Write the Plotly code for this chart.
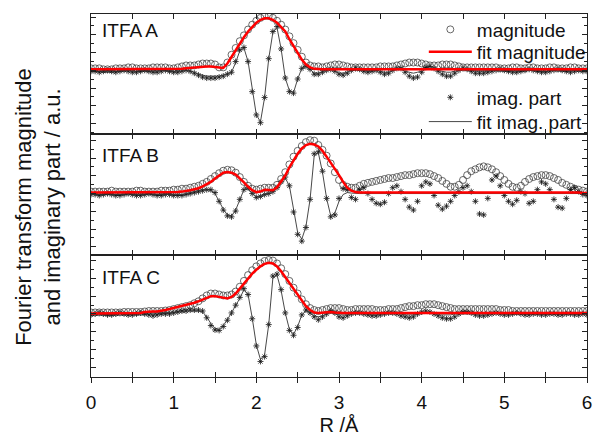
import plotly.graph_objects as go

# R grid (Å), step 0.05
R = [round(i * 0.05, 2) for i in range(121)]

# ---------- ITFA A ----------
mag_A = [2,2,2,1,1,1,2,2,2,3, 3,2,2,2,2,3,3,3,3,2,
         2,3,4,5,5,5,6,7,7,7, 6,3,3,8,16,23,30,36,42,47,
         51,54,56,56,54,51,47,42,35,28, 21,14,8,5,4,4,3,4,5,6,
         6,5,4,3,3,3,3,3,3,3, 4,4,4,4,5,6,7,8,8,8,
         7,6,5,5,5,6,6,6,5,4, 3,3,3,3,3,3,3,3,3,2,
         2,2,3,3,2,2,3,3,2,2, 2,3,3,2,2,2,3,3,2,2,
         2]
fit_mag_A = [1,1,1,1,1,1,1,1,1,1, 1,1,1,1.5,1.5,1.5,1.5,1.5,1.5,1.5,
             1.5,1.5,1.5,2,2.5,3,3.5,4,4,4, 3.5,2.5,2.5,7,14,21,28,34,40,45,
             49,52,53.5,53.5,52,49,45,40,32,25, 18,11,6,3,1.5,1,1,1,1,1,
             1,1,1,1,1,1.5,1.5,1,1,1, 1,1,1,1,1.5,1.5,1.5,1,1,1,
             1,1,1,1.5,1.5,1.5,1,1,1,1, 1,1,1,1,1,1,1,1,1,1,
             1,1,1,1,1,1,1,1,1,1, 1,1,1,1,1,1,1,1,1,1,
             1]
imag_A = [-1,-1,-2,-1,0,-1,-2,-1,0,-1, -2,-2,-1,0,-1,-2,-2,-1,0,-1,
          -2,-2,-1,0,-1,-3,-5,-7,-8,-8, -8,-7,-6,-4,-2,9,21,23.5,9,-22,
          -46,-54,-28,12,40,45,22,-8,-22,-23.5, -9,2,4,1,-4,-4,-2,0,1,-1,
          -4,-5,-3,0,2,1,-1,-2,-1,0, -2,-4,-3,0,2,2,-2,-6,-8,-7,
          -2,3,4,2,-1,-4,-6,-6,-3,0, 2,1,-1,-3,-3,-3,-2,-1,0,1,
          0,-1,-2,-2,-1,0,1,0,-1,-2, -2,-1,0,1,0,-1,-2,-1,0,-1,
          -1]
fit_imag_A = [0,0,-1,-1,0,0,-1,-1,0,0, -1,-1,0,0,-1,-1,-1,0,0,-1,
              -1,-1,-1,0,-1,-2,-4,-5,-6,-6, -6,-6,-5,-4,-2,8,20,23,9,-21,
              -46,-53,-28,12,39,44,22,-8,-21,-23, -9,2,4,1,-3,-3,-2,0,1,-1,
              -3,-3,-2,0,1,1,0,-1,-1,0, -1,-2,-2,0,1,1,-1,-2,-3,-2,
              -1,1,2,1,0,-1,-2,-2,-1,0, 1,1,0,-1,-1,-1,-1,0,0,0,
              0,0,-1,-1,0,0,0,0,0,-1, -1,0,0,0,0,0,-1,0,0,0,
              0]

# ---------- ITFA B ----------
mag_B = [2,2,2,2,2,3,2,2,2,2, 2,3,3,2,2,2,2,3,3,3,
         4,4,5,5,6,7,8,10,12,15, 18,21,23.5,24.5,24,21.5,17,12,8,5,
         4,5,6,6,6,9,15,22,30,38, 44,49,53,55,54.5,50,45,39,31,22,
         14,9,7,6,6,8,10,11,12,13, 14,15,16,16,17,18,19,19,20,21,
         21,21,20,18,16,13,10,7,7,9, 14,19,23,25,27,28,27,25,22,18,
         14,10,7,6,8,12,15,17,18,19, 19,18,16,14,11,9,7,5,4,3,
         2]
fit_mag_B = [1,1,1,1,1,1.5,1.5,1,1,1, 1,1.5,1.5,1,1,1,1,1.5,1.5,1.5,
             1.5,1.5,2,2.5,3.5,4.5,5.5,7.5,9.5,12, 15.5,19,21.5,22.3,21.5,19.5,16,11.5,7,3.5,
             1.5,2,4,4,3.5,6.5,12,18.5,27,34.5, 41,46.5,50,51.3,50.5,48.5,44,38,32,26,
             19,12,6,3,1.5,1,1,1,1,1, 1,1.5,1.5,1,1,1,1,1,1.5,1.5,
             1,1,1,1,1.5,1,1,1,1,1, 1,1,1,1,1,1.5,1.5,1,1,1,
             1,1,1,1,1,1,1,1,1,1, 1,1,1,1,1,1,1,1,1,0.5,
             0.5]
imag_B = [-1,-1,-2,-1,0,-1,-2,-2,-1,0, -1,-2,-2,-1,0,-1,-2,-2,-1,-1,
          -2,-2,-2,-1,0,1,2,3,4,4, 1,-8,-17,-23,-24,-18,-6,4,6,0,
          -4,-3,-1,0,2,6,12,17,8,-19, -42,-49,-35,-6,41,43,23,-5,-24,-22,
          -5,5,4,-4,-6,4,6,0,-6,-10, -11,-9,0,6,8,2,-6,-14,-17,-8,
          8,12,10,-2,-12,-16,-13,-8,-2,2, 6,8,2,-8,-21,-22,-5,14,18,8,
          -2,-8,-11,-7,2,0,-10,-8,4,12, 10,4,-6,-14,-15,-5,4,6,2,-1,
          -2]
fit_imag_B = [-1,-1,-1,-1,0,-1,-1,-1,-1,0, -1,-1,-1,-1,0,-1,-1,-1,-1,-1,
              -1,-1,-1,0,1,2,3,4,4,3, 0,-8,-16,-22,-23,-17,-6,4,5,0,
              -3,-3,-1,0,2,6,12,16,8,-18, -40,-47,-34,-6,39,42,22,-5,-23,-20,
              -8,-1,1,0.5,0,0,0,0,0,0, 0,0,0,0,0,0,0,0,0,0,
              0,0,0,0,0,0,0,0,0,0, 0,0,0,0,0,0,0,0,0,0,
              0,0,0,0,0,0,0,0,0,0, 0,0,0,0,0,0,0,0,0,0,
              0]

# ---------- ITFA C ----------
mag_C = [1.5,1.5,1.5,1.5,1.5,1.5,1.5,1.5,2,2, 2,2,2,2.5,3,3,3,3,3.5,4,
         5,6,7,8,9,11,13,16,19,21, 21,20,19,19,20,23,28,34,40,45,
         49,52,54.5,55.5,55,52,47,41,34,27, 21,15,10,6,4,3,4,5,6,6,
         6,5,4,4,5,5,5,5,5,4, 4,4,5,5,5,6,7,8,8,9,
         9,10,10,10,9,8,7,6,5,5, 5,5,5,5,5,5,5,5,5,4,
         4,4,3,3,3,3,3,3,3,3, 3,3,3,3,3,3,3,3,3,3,
         3]
fit_mag_C = [0.5,0.5,0.5,0.5,0.5,0.5,0.5,0.5,0.5,0.5, 0.5,0.5,1,2,2.5,2.5,2.5,3,4,5,
             6,7.5,8.5,9.5,10.5,11.5,13,15,17,18.3, 18.3,17.5,16.5,16,17.5,21,26,31.5,37,41.5,
             45.5,49,51.5,52.7,52,49,44,38,31.5,25, 19,13,8,4,1.5,1,1.5,2,2,1.5,
             1,1,1,1,1.5,1.5,1,1,1,1, 1,1,1,1,1,1,1.5,1.5,1.5,1.5,
             1.5,1.5,1.5,1.5,1,1,1,1,1,1, 1,1,1,1,1,1,1,1,1,1,
             1,1,1,1,1,1,1,1,1,1, 1,1,1,1,1,1,1,1,1,1,
             1]
imag_C = [-1,0,1,0,-1,-1,0,1,0,-1, -1,0,1,0,-1,-2,-1,0,0,0,
          1,2,3,3,4,4,4,3,-4,-12, -16.5,-17,-13,-6.5,1,9,17,26,20,-5,
          -33,-49,-44,-11,39,41,25,1,-17,-22, -14,-1,4,1,-3,-6,-3,0,3,1,
          -3,-4,-2,0,1,1,0,-1,-2,-2, -1,0,1,1,0,-2,-3,-4,-3,0,
          2,3,2,0,-2,-4,-5,-5,-3,0, 2,2,1,-1,-2,-2,-1,0,1,0,
          -1,-1,0,1,0,-1,-1,0,0,-1, -1,0,0,-1,-1,0,0,-1,-1,0,
          -1]
fit_imag_C = [0,0,0,0,0,0,0,0,0,0, 0,0,0,1,1,1,1,1,1,1,
              1,2,2,3,3,3,3,2,-3,-10, -15,-16,-12,-6,1,8,16,25,20,-4,
              -32,-47,-42,-11,37,40,24,1,-16,-21, -13,-1,3,1,-2,-3,-2,0,1,0,
              -1,-1,-1,0,0,0,0,0,-1,-1, 0,0,0,0,0,0,-1,-1,-1,0,
              0,1,1,0,-1,-1,-1,-1,0,0, 0,0,0,0,0,0,0,0,0,0,
              0,0,0,0,0,0,0,0,0,0, 0,0,0,0,0,0,0,0,0,0,
              0]

panel_labels = ["ITFA A", "ITFA B", "ITFA C"]
legend_names = ["magnitude", "fit magnitude", "imag. part", "fit imag. part"]
x_tick_labels = ["0", "1", "2", "3", "4", "5", "6"]

panels = [
    (mag_A, fit_mag_A, imag_A, fit_imag_A, "x", "y"),
    (mag_B, fit_mag_B, imag_B, fit_imag_B, "x2", "y2"),
    (mag_C, fit_mag_C, imag_C, fit_imag_C, "x3", "y3"),
]

FONT = "Liberation Sans, Arial, sans-serif"
fig = go.Figure()

for i, (mg, fmg, im, fim, xa, ya) in enumerate(panels):
    first = (i == 0)
    fig.add_trace(go.Scatter(
        x=R, y=mg, mode="markers", name=legend_names[0], xaxis=xa, yaxis=ya,
        marker=dict(symbol="circle-open", size=7, color="#444", line=dict(width=0.8)),
        showlegend=first, legend="legend"))
    fig.add_trace(go.Scatter(
        x=R, y=im, mode="markers", name=legend_names[2], xaxis=xa, yaxis=ya,
        marker=dict(symbol="asterisk-open", size=5, color="#111", line=dict(width=0.8, color="#111")),
        showlegend=first, legend="legend3"))
    fig.add_trace(go.Scatter(
        x=R, y=fim, mode="lines", name=legend_names[3], xaxis=xa, yaxis=ya,
        line=dict(color="#333", width=0.9),
        showlegend=first, legend="legend4"))
    fig.add_trace(go.Scatter(
        x=R, y=fmg, mode="lines", name=legend_names[1], xaxis=xa, yaxis=ya,
        line=dict(color="#ff0000", width=2.5),
        showlegend=first, legend="legend2"))

# dummy trace for the labelled bottom axis
fig.add_trace(go.Scatter(x=[None], y=[None], xaxis="x4", yaxis="y3",
                         showlegend=False, hoverinfo="skip"))

common_x = dict(range=[0, 6], showline=True, linecolor="#222", linewidth=1.2,
                mirror="ticks", ticks="inside", ticklen=5, tickcolor="#222",
                dtick=0.5, tick0=0, showticklabels=False, showgrid=False, zeroline=False)
def y_axis(rng, dom):
    return dict(range=rng, domain=dom, showline=True, linecolor="#222", linewidth=1.2,
                mirror="ticks", ticks="inside", ticklen=5, tickcolor="#222",
                dtick=18.3, tick0=0, showticklabels=False, showgrid=False, zeroline=False,
                minor=dict(dtick=9.15, tick0=0, ticks="inside", ticklen=3, tickcolor="#222"))

def leg(yc):
    return dict(x=0.671, y=yc, xanchor="left", yanchor="middle", bgcolor="rgba(0,0,0,0)",
                font=dict(size=19, family=FONT, color="#111"), itemwidth=43)

d1, d2 = 0.3356, 0.6698
fig.update_layout(
    width=598, height=439,
    margin=dict(l=91, r=6, t=14, b=51),
    paper_bgcolor="white", plot_bgcolor="white",
    font=dict(family=FONT, color="#111", size=18),
    xaxis=dict(common_x, anchor="y"),
    xaxis2=dict(common_x, anchor="y2"),
    xaxis3=dict(common_x, anchor="y3"),
    xaxis4=dict(range=[0, 6], overlaying="x3", anchor="y3", side="bottom",
                showline=False, ticks="outside", ticklen=5, tickcolor="#222",
                showgrid=False, zeroline=False, ticklabelstandoff=3,
                tickvals=[0, 1, 2, 3, 4, 5, 6], ticktext=x_tick_labels,
                tickfont=dict(size=19, family=FONT, color="#111"),
                minor=dict(dtick=0.5, ticks="outside", ticklen=5, tickcolor="#222"),
                title=dict(text="R /Å", font=dict(size=20, family=FONT, color="#111"), standoff=6)),
    yaxis=y_axis([-65.5, 58], [d2, 1]),
    yaxis2=y_axis([-63.5, 61.5], [d1, d2]),
    yaxis3=y_axis([-65, 60.5], [0, d1]),
    legend=leg(0.9572),
    legend2=leg(0.8957),
    legend3=leg(0.7701),
    legend4=leg(0.7032),
    showlegend=True,
)

label_y = [0.9545, 0.6096, 0.2754]
for txt, yy in zip(panel_labels, label_y):
    fig.add_annotation(text=txt, xref="paper", yref="paper", x=0.018, y=yy,
                       xanchor="left", yanchor="middle", showarrow=False,
                       font=dict(size=19, family=FONT, color="#111"))

fig.add_annotation(text="Fourier transform magnitude", xref="paper", yref="paper",
                   x=-0.1377, y=0.468, xanchor="center", yanchor="middle", textangle=-90,
                   showarrow=False, font=dict(size=22, family=FONT, color="#111"))
fig.add_annotation(text="and imaginary part / a.u.", xref="paper", yref="paper",
                   x=-0.0778, y=0.468, xanchor="center", yanchor="middle", textangle=-90,
                   showarrow=False, font=dict(size=22, family=FONT, color="#111"))

fig.write_html("out.html",
               config={"displayModeBar": False},
               post_script="document.body.style.margin='0';document.body.style.overflow='hidden';")
